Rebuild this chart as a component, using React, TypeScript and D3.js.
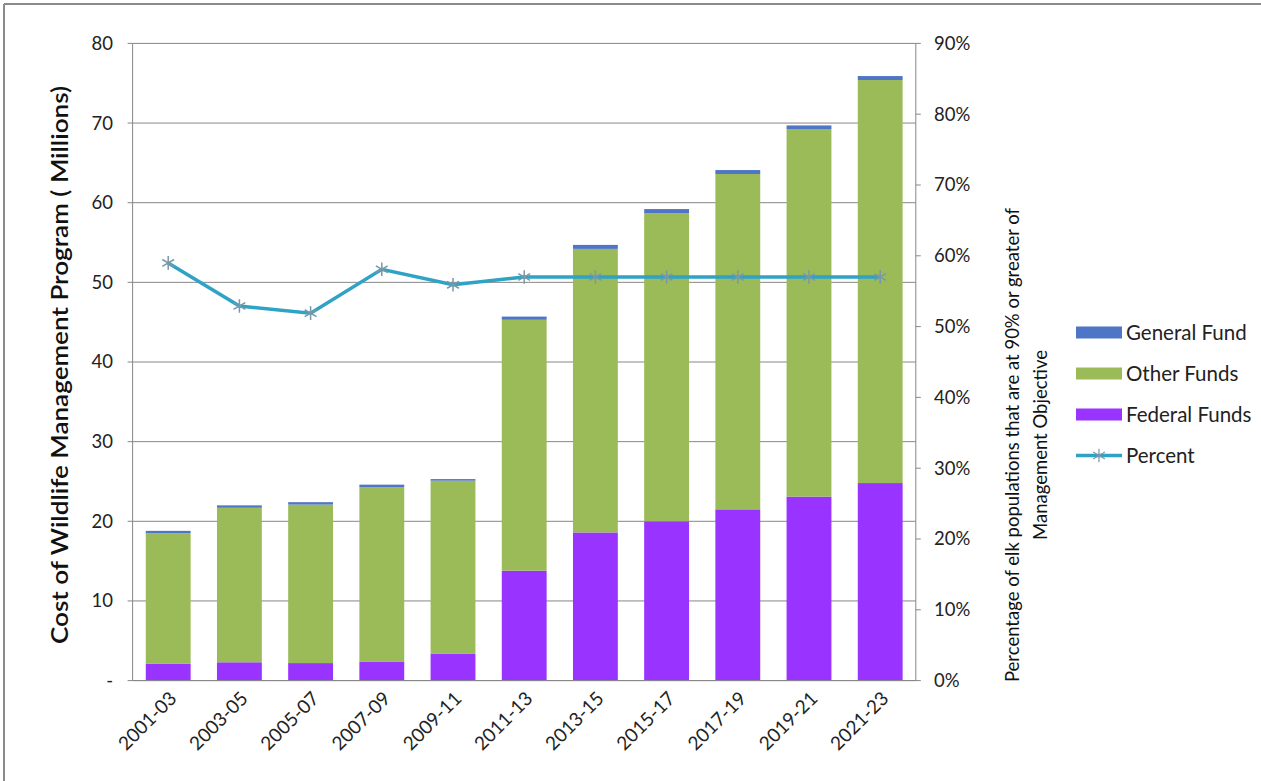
import React from "react";
import * as d3 from "d3";

const categories = ["2001-03","2003-05","2005-07","2007-09","2009-11","2011-13","2013-15","2015-17","2017-19","2019-21","2021-23"];
const federalFunds = [2.1, 2.3, 2.2, 2.4, 3.4, 13.8, 18.6, 20.0, 21.5, 23.1, 24.8];
const otherFunds = [16.4, 19.4, 19.9, 21.9, 21.7, 31.5, 35.6, 38.7, 42.1, 46.1, 50.6];
const generalFund = [0.3, 0.3, 0.3, 0.3, 0.2, 0.4, 0.5, 0.5, 0.5, 0.5, 0.5];
const percent = [59.0, 52.9, 51.9, 58.1, 55.9, 57.0, 57.0, 57.0, 57.0, 57.0, 57.0];
const leftTicks = [0, 10, 20, 30, 40, 50, 60, 70, 80];
const rightTicks = [0, 10, 20, 30, 40, 50, 60, 70, 80, 90];

const seriesKeys = ["federal", "other", "general"];
const seriesColors: Record<string, string> = { federal: "#9933FF", other: "#9BBB59", general: "#4F75C6" };
const legendItems = [
  { label: "General Fund", color: "#4F75C6", type: "bar" },
  { label: "Other Funds", color: "#9BBB59", type: "bar" },
  { label: "Federal Funds", color: "#9933FF", type: "bar" },
  { label: "Percent", color: "#2FA3C6", type: "line" },
];

const FONT = "Lato, 'Open Sans', 'DejaVu Sans', sans-serif";

export default function App() {
  const left = 132.6, right = 915.8, top = 43.4, bottom = 680.6;
  const x = d3.scaleBand<string>().domain(categories).range([left, right]).paddingInner(0.37).paddingOuter(0.185);
  const y = d3.scaleLinear().domain([0, 80]).range([bottom, top]);
  const y2 = d3.scaleLinear().domain([0, 90]).range([bottom, top]);

  const rows = categories.map((c, i) => ({ cat: c, federal: federalFunds[i], other: otherFunds[i], general: generalFund[i] }));
  const stacked = d3.stack<any>().keys(seriesKeys)(rows);

  const line = d3.line<number>()
    .x((_, i) => (x(categories[i]) as number) + x.bandwidth() / 2)
    .y((d) => y2(d));
  const star = d3.symbol().type(d3.symbolAsterisk).size(130)() as string;
  const grid = "#878787";

  return (
    <svg width={1261} height={781} style={{ position: "absolute", left: 0, top: 0, background: "#fff" }} fontFamily={FONT}>
      <rect x={0} y={0} width={1261} height={781} fill="#fff" />
      <line x1={4} y1={4} x2={1261} y2={4} stroke="#8a8a8a" strokeWidth={2} />
      <line x1={4} y1={4} x2={4} y2={781} stroke="#8a8a8a" strokeWidth={2} />

      {leftTicks.map((t) => (
        <line key={"g" + t} x1={left} x2={right} y1={y(t)} y2={y(t)} stroke={grid} strokeWidth={1} />
      ))}
      {stacked.map((s) => (
        <g key={s.key} fill={seriesColors[s.key]}>
          {s.map((d, i) => (
            <rect key={i} x={x(categories[i])} width={x.bandwidth()} y={y(d[1])} height={y(d[0]) - y(d[1])} />
          ))}
        </g>
      ))}
      <line x1={left} x2={left} y1={top} y2={bottom} stroke={grid} />
      <line x1={right} x2={right} y1={top} y2={bottom} stroke={grid} />
      <line x1={left} x2={right} y1={bottom} y2={bottom} stroke={grid} />
      {leftTicks.map((t) => (
        <g key={"lt" + t}>
          <line x1={left - 5} x2={left} y1={y(t)} y2={y(t)} stroke={grid} />
          <text x={113} y={y(t)} dy="0.35em" textAnchor="end" fontSize={18.5} fill="#222">{t === 0 ? "-" : t}</text>
        </g>
      ))}
      {rightTicks.map((t) => (
        <g key={"rt" + t}>
          <line x1={right} x2={right + 5} y1={y2(t)} y2={y2(t)} stroke={grid} />
          <text x={934} y={y2(t)} dy="0.35em" textAnchor="start" fontSize={18.5} fill="#222">{t + "%"}</text>
        </g>
      ))}
      {categories.map((c) => {
        const cx = (x(c) as number) + x.bandwidth() / 2 + 5;
        return (
          <text key={c} transform={`translate(${cx},${695}) rotate(-45)`} textAnchor="end" dy="0.35em" fontSize={19} fill="#222">{c}</text>
        );
      })}

      <path d={line(percent) as string} fill="none" stroke="#2FA3C6" strokeWidth={3.5} />
      {percent.map((p, i) => (
        <path key={i} d={star} transform={`translate(${(x(categories[i]) as number) + x.bandwidth() / 2},${y2(p)})`} fill="none" stroke="#7898A8" strokeWidth={1.5} />
      ))}

      <text transform={`translate(68,365) rotate(-90)`} textAnchor="middle" fontSize={22.5} fontWeight={600} fill="#111" textLength={558} lengthAdjust="spacingAndGlyphs">Cost of Wildlife Management Program ( Millions)</text>
      <text transform={`translate(1019,445) rotate(-90)`} textAnchor="middle" fontSize={18.5} fill="#111">
        <tspan x={0} dy={0}>Percentage of elk populations that are at 90% or greater of</tspan>
        <tspan x={0} dy={28}>Management Objective</tspan>
      </text>

      {legendItems.map((it, i) => {
        const cy = 332.5 + i * 41;
        return (
          <g key={it.label}>
            {it.type === "bar" ? (
              <rect x={1076} y={cy - 6} width={46} height={12} fill={it.color} />
            ) : (
              <g>
                <line x1={1076} x2={1122} y1={cy} y2={cy} stroke={it.color} strokeWidth={3.5} />
                <path d={star} transform={`translate(1099,${cy})`} fill="none" stroke="#7898A8" strokeWidth={1.2} />
              </g>
            )}
            <text x={1126} y={cy} dy="0.35em" fontSize={20.5} fill="#222">{it.label}</text>
          </g>
        );
      })}
    </svg>
  );
}
